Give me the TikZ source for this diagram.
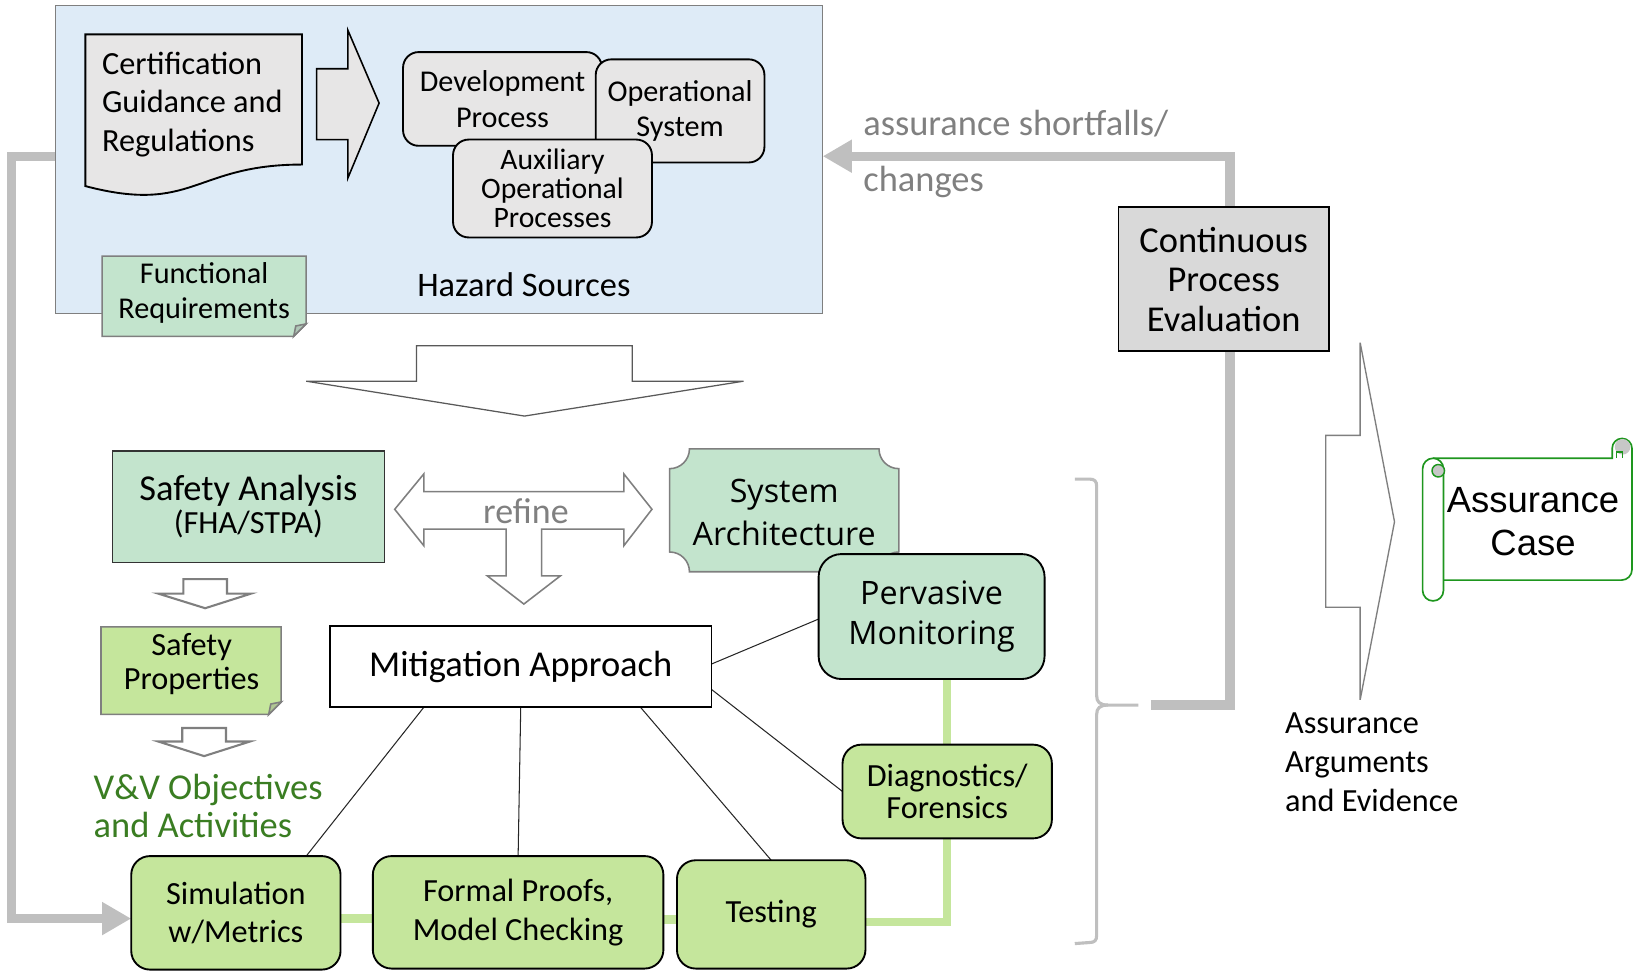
\documentclass[tikz,border=0pt]{standalone}
\usepackage{fontspec}
\setmainfont{Carlito}
\newfontfamily\segoefont{Open Sans}
\newfontfamily\arialfont{Liberation Sans}
\usetikzlibrary{arrows.meta,calc}
\definecolor{hazblue}{HTML}{DEEBF7}
\definecolor{lgray}{HTML}{E7E6E6}
\definecolor{cpegray}{HTML}{D9D9D9}
\definecolor{tgreen}{HTML}{C3E4CD}
\definecolor{ygreen}{HTML}{C5E69C}
\definecolor{vvgreen}{HTML}{3A7D22}
\definecolor{scrollgreen}{HTML}{1E961E}
\definecolor{linegray}{HTML}{BFBFBF}
\definecolor{txtgray}{HTML}{808080}
\definecolor{edgegray}{HTML}{7F7F7F}
\pgfdeclarelayer{bgbox}
\pgfdeclarelayer{lines}
\pgfsetlayers{bgbox,lines,main}
\tikzset{
  base/.style={inner sep=0pt, outer sep=0pt, align=center},
  grayrbox/.style={base, draw=black, line width=1.8pt, fill=lgray, rounded corners=15pt},
  greenrbox/.style={base, draw=black, line width=1.8pt, fill=ygreen, rounded corners=18pt},
  tealrbox/.style={base, draw=black, line width=1.8pt, fill=tgreen, rounded corners=22pt},
  plainbox/.style={base, draw=black, line width=1.3pt},
  notebox/.style={draw=edgegray, line width=1.5pt},
  thinlink/.style={draw=black!85, line width=1pt},
  greenlink/.style={draw=ygreen, line width=8pt},
  graylink/.style={draw=linegray, line width=9pt},
  blockarrow/.style={draw=edgegray, line width=1.5pt, fill=white, line join=miter},
  fA/.style={font=\fontsize{31}{37}\selectfont},
  fB/.style={font=\fontsize{35}{38}\selectfont},
  fC/.style={font=\fontsize{29}{34}\selectfont},
}
\begin{document}
\begin{tikzpicture}[x=1pt,y=-1pt]
\useasboundingbox (0,0) rectangle (1568,935);

% Hazard sources box
\begin{pgfonlayer}{bgbox}
\node[base, draw=edgegray, line width=1.3pt, fill=hazblue, minimum width=737pt, minimum height=296pt] (hazard) at (421.5,153) {};
\end{pgfonlayer}

% Certification document
\draw[black, line width=1.8pt, fill=lgray] (82,33) -- (290,33) -- (290,158)
  .. controls (186,158) and (186,206) .. (82,178.7) -- cycle;
\node[base, fA, anchor=west, align=left] (cert) at (98,100) {Certification\\Guidance and\\Regulations};

% arrow from certification
\draw[black, line width=1.5pt, fill=lgray, line join=miter] (304,66) -- (334,66) -- (334,29) -- (364,99) -- (334,171) -- (334,134) -- (304,134) -- cycle;

\node[grayrbox, fC, minimum width=191pt, minimum height=90pt] (dev) at (482.5,95) {Development\\Process};
\node[grayrbox, fC, minimum width=162pt, minimum height=99pt] (ops) at (653,106.5) {Operational\\System};
\node[grayrbox, font=\fontsize{28.5}{28}\selectfont, minimum width=191pt, minimum height=94pt] (aux) at (530.5,181) {Auxiliary\\Operational\\Processes};

% Functional requirements note
\draw[notebox, fill=tgreen] (98,246) -- (294,246) -- (294,311) -- (282,323) -- (98,323) -- cycle;
\draw[notebox, fill=tgreen!70!gray] (294,311) -- (284,313) -- (282,323) -- cycle;
\node[base, fC] (funreq) at (196,281) {Functional\\Requirements};

\node[base, font=\fontsize{33}{38}\selectfont] (hazlabel) at (503,273) {Hazard Sources};

% big down arrow
\draw[draw=black!65, line width=1.2pt, fill=white, line join=miter] (400,332) -- (607,332) -- (607,366) -- (714,366) -- (503.6,399.5) -- (294,366) -- (400,366) -- cycle;

% Safety analysis
\node[base, draw=black!80, line width=1.2pt, fill=tgreen, minimum width=261pt, minimum height=107pt] (safety) at (238.5,486.5) {};
\node[base, font=\fontsize{35}{38}\selectfont] at (238.5,471) {Safety Analysis};
\node[base, font=\fontsize{31}{34}\selectfont] at (238.5,503) {(FHA/STPA)};

% refine arrow
\draw[blockarrow] (379,489) -- (407,455) -- (407,472) -- (599,472) -- (599,455) -- (626,489) -- (599,524) -- (599,508) -- (520,508) -- (520,553) -- (538,553) -- (503,580) -- (468,553) -- (486,553) -- (486,508) -- (407,508) -- (407,524) -- cycle;
\node[base, font=\fontsize{34.5}{38}\selectfont, text=txtgray] (refine) at (505,491) {refine};

% System architecture plaque
\draw[draw=edgegray, line width=1.5pt, fill=tgreen]
  (662,431) -- (844,431) .. controls (844,441.5) and (852.5,450) .. (863,450) -- (863,530)
  .. controls (852.5,530) and (844,538.5) .. (844,549) -- (662,549)
  .. controls (662,538.5) and (653.5,530) .. (643,530) -- (643,450)
  .. controls (653.5,450) and (662,441.5) .. (662,431) -- cycle;
\node[base, font=\segoefont\fontsize{31}{42}\selectfont] (sysarch) at (753,492) {System\\Architecture};

\node[tealrbox, font=\segoefont\fontsize{31}{38}\selectfont, minimum width=217pt, minimum height=120pt] (pervmon) at (894.5,592) {Pervasive\\Monitoring};

% small arrows
\draw[draw=edgegray, line width=2pt, fill=white, line join=miter] (176,556) -- (218,556) -- (218,570) -- (241,570) -- (197,584) -- (152,570) -- (176,570) -- cycle;
\draw[draw=edgegray, line width=2pt, fill=white, line join=miter] (175,699) -- (217,699) -- (217,712) -- (240,712) -- (196,726) -- (152,712) -- (175,712) -- cycle;

% Safety properties note
\draw[notebox, fill=ygreen] (97,602) -- (270,602) -- (270,674) -- (258,686) -- (97,686) -- cycle;
\draw[notebox, fill=ygreen!70!gray] (270,674) -- (260,676) -- (258,686) -- cycle;
\node[base, font=\fontsize{31}{33}\selectfont] (safeprop) at (184,637.5) {Safety\\Properties};

\node[base, font=\fontsize{35}{36}\selectfont, text=vvgreen, anchor=west, align=left] (vv) at (90,774) {V\&V Objectives\\and Activities};

\node[plainbox, fill=white, fB, minimum width=366pt, minimum height=78pt] (mitig) at (500,640) {Mitigation Approach};

\node[greenrbox, font=\fontsize{31}{31}\selectfont, minimum width=201pt, minimum height=90pt] (diag) at (909.5,760) {Diagnostics/\\Forensics};
\node[greenrbox, fA, minimum width=201pt, minimum height=109pt] (sim) at (226.5,876.5) {Simulation\\w/Metrics};
\node[greenrbox, fA, minimum width=279pt, minimum height=108pt] (formal) at (497.5,876) {Formal Proofs,\\Model Checking};
\node[greenrbox, fA, minimum width=181pt, minimum height=104pt] (testing) at (740.5,878) {Testing};

\node[base, draw=black, line width=1.8pt, fill=cpegray, fB, minimum width=202pt, minimum height=138pt] (cpe) at (1175,268) {Continuous\\Process\\Evaluation};

\node[base, fB, text=txtgray, anchor=west] (short) at (829,119) {assurance shortfalls/};
\node[base, fB, text=txtgray, anchor=west] (changes) at (829,175) {changes};

% connectors
\begin{pgfonlayer}{lines}
\draw[thinlink] ($(mitig.south west)!0.246!(mitig.south east)$) -- ($(sim.north west)!0.836!(sim.north east)$);
\draw[thinlink] (mitig.south) -- (formal.north);
\draw[thinlink] ($(mitig.south west)!0.814!(mitig.south east)$) -- (testing.north);
\draw[thinlink] ($(mitig.north east)!0.78!(mitig.south east)$) -- (diag.west);
\draw[thinlink] ($(mitig.north east)!0.47!(mitig.south east)$) -- ($(pervmon.north west)!0.52!(pervmon.south west)$);
\draw[greenlink] ($(sim.east)+(0,5.5)$) -- ($(formal.west)+(0,6)$);
\draw[greenlink] ($(formal.east)+(0,7)$) -- ($(testing.west)+(0,5)$);
\draw[greenlink] ($(testing.east)+(0,7)$) -| (diag.south);
\draw[greenlink] (diag.north) -- (diag.north |- pervmon.south);
\coordinate (gl1) at (11,150);
\coordinate (gl2) at (11,882);
\draw[graylink, -{Triangle[length=28pt,width=30pt]}] ($(hazard.west)+(0,-3)$) -- (gl1) -- (gl2) -- ($(sim.west)+(0,5.5)$);
\coordinate (fb1) at (1105,677);
\coordinate (fb2) at (1181,677);
\coordinate (fb3) at (1181,150);
\draw[graylink, -{Triangle[length=28pt,width=30pt]}] (fb1) -- (fb2) -- (fb3) -- ($(hazard.east)+(0,-3)$);
\end{pgfonlayer}

% bracket
\draw[linegray, line width=3pt] (1032,460) -- (1046,460) .. controls (1051,460) and (1053,462) .. (1053,467) -- (1053,668)
  .. controls (1053,674) and (1056,677) .. (1064,677) -- (1093,677);
\draw[linegray, line width=3pt] (1064,677) .. controls (1056,677) and (1053,680) .. (1053,686) -- (1053,898)
  .. controls (1053,903) and (1051,905) .. (1046,905) -- (1032,906);

% big right arrow
\draw[draw=edgegray, line width=1.3pt, fill=white, line join=miter] (1273,418) -- (1306,418) -- (1306,329) -- (1339,501) -- (1306,672) -- (1306,583) -- (1273,583) -- cycle;
\node[base, anchor=west, align=left, font=\fontsize{31}{37.5}\selectfont] (aae) at (1234,732) {Assurance\\Arguments\\and Evidence};

% Assurance case scroll
\draw[scrollgreen, line width=1.6pt, fill=white] (1376,440) -- (1548,440) -- (1548,430.5) arc[start angle=180, end angle=360, radius=9.5] -- (1567,547) arc[start angle=0, end angle=90, radius=10] -- (1386,557);
\fill[black!22] (1558,429) circle (7.5);
\draw[scrollgreen, line width=1.4pt] (1552,440) -- (1552,434) -- (1558,434) -- (1558,440);
\draw[scrollgreen, line width=1.6pt, fill=white] (1366,450) arc[start angle=180, end angle=360, radius=10] -- (1386,567) arc[start angle=0, end angle=180, radius=10] -- cycle;
\draw[scrollgreen, line width=1.4pt, fill=black!22] (1381,452) circle (6);
\node[base, font=\arialfont\fontsize{35}{41}\selectfont] (acase) at (1472,501) {Assurance\\Case};
\end{tikzpicture}
\end{document}
